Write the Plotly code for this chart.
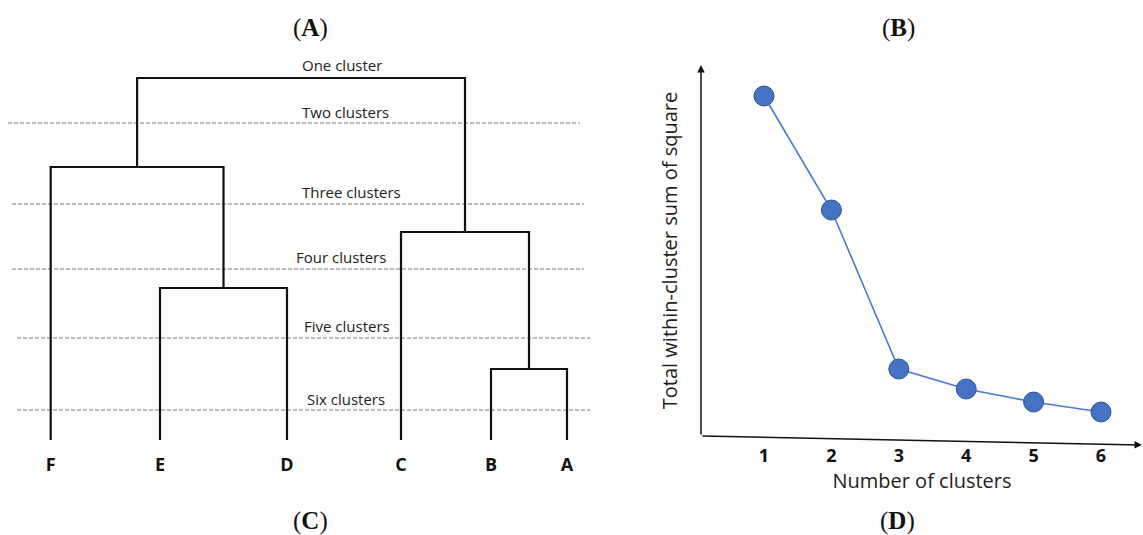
import plotly.graph_objects as go

# ---------------- Hierarchical clustering dendrogram ----------------
leaf_labels = ["F", "E", "D", "C", "B", "A"]
leaf_pos = [50.7, 160, 287, 401, 491, 567]

# linkage: node ids 0-5 are leaves, each merge creates node 6, 7, ...
merge_a = [4, 1, 3, 0, 9]
merge_b = [5, 2, 6, 7, 8]
merge_height = [71, 152, 208, 273, 362]

# horizontal cut levels and their captions
cut_heights = [317, 236, 171, 102, 30]
cut_start = [8, 12, 12, 17, 17]
cut_end = [580, 584, 584, 590, 590]
cut_labels = ["One cluster", "Two clusters", "Three clusters",
              "Four clusters", "Five clusters", "Six clusters"]
cut_label_heights = [375, 328, 248, 183, 114, 41]
cut_label_x = [300, 300, 300, 294, 302, 305]

# ---------------- Elbow plot ----------------
n_clusters = [1, 2, 3, 4, 5, 6]
wss = [340, 226, 67, 47, 34, 24]

W, H = 1143, 535
fig = go.Figure()

# dendrogram links
node_x = list(leaf_pos)
node_h = [0] * len(leaf_pos)
lx, ly = [], []
for a, b, h in zip(merge_a, merge_b, merge_height):
    lx += [node_x[a], node_x[a], node_x[b], node_x[b], None]
    ly += [node_h[a], h, h, node_h[b], None]
    node_x.append((node_x[a] + node_x[b]) / 2)
    node_h.append(h)

# dashed cut lines
cx, cy = [], []
for h, x0, x1 in zip(cut_heights, cut_start, cut_end):
    cx += [x0, x1, None]
    cy += [h, h, None]
fig.add_trace(go.Scatter(x=cx, y=cy, mode="lines", xaxis="x2", yaxis="y2",
                         line=dict(color="#7a7a7a", width=1, dash="4px,2px"),
                         hoverinfo="skip", showlegend=False))
fig.add_trace(go.Scatter(x=lx, y=ly, mode="lines", xaxis="x2", yaxis="y2",
                         line=dict(color="#111111", width=2.2),
                         hoverinfo="skip", showlegend=False))

for txt, h, x in zip(cut_labels, cut_label_heights, cut_label_x):
    fig.add_annotation(x=x, y=h, xref="x2", yref="y2", text=txt,
                       showarrow=False, xanchor="left", yanchor="middle",
                       font=dict(family="Open Sans", size=15, color="#222222"))

# elbow curve
fig.add_trace(go.Scatter(x=n_clusters, y=wss, mode="lines+markers",
                         line=dict(color="#4a7bd0", width=1.6),
                         marker=dict(size=20, color="#4472c4",
                                     line=dict(color="#2f5597", width=1)),
                         hoverinfo="skip", showlegend=False))

ex0, ex1 = 701 / W, 1.0
ey0, ey1 = (H - 436) / H, (H - 65) / H

fig.update_layout(
    width=W, height=H,
    margin=dict(l=0, r=0, t=0, b=0),
    paper_bgcolor="white", plot_bgcolor="rgba(0,0,0,0)",
    showlegend=False,
    xaxis=dict(domain=[ex0, ex1], range=[0.0653, 6.623],
               tickvals=n_clusters, ticktext=[str(n) for n in n_clusters],
               showgrid=False, zeroline=False, showline=False, ticks="",
               ticklabelstandoff=7,
               tickfont=dict(family="Open Sans", size=18, color="#111111",
                             weight="bold"),
               title=dict(text="Number of clusters", standoff=5,
                          font=dict(family="Open Sans", size=20,
                                    color="#222222"))),
    yaxis=dict(domain=[ey0, ey1], range=[0, 371], showticklabels=False,
               showgrid=False, zeroline=False, showline=False, ticks="",
               title=dict(text="Total within-cluster sum of square",
                          standoff=17,
                          font=dict(family="Open Sans", size=20,
                                    color="#222222"))),
    xaxis2=dict(domain=[0, 600 / W], range=[0, 600], anchor="y2",
                tickvals=leaf_pos, ticktext=leaf_labels,
                showgrid=False, zeroline=False, showline=False, ticks="",
                ticklabelstandoff=2,
                tickfont=dict(family="Open Sans", size=18, color="#111111",
                              weight="bold")),
    yaxis2=dict(domain=[(H - 450) / H, 1.0], range=[-10, 440], anchor="x2",
                showticklabels=False, showgrid=False, zeroline=False,
                showline=False, ticks=""),
)

# axis arrows of the elbow plot
fig.add_annotation(xref="paper", yref="paper", x=ex0, y=ey1, ax=0, ay=371,
                   text="", showarrow=True, arrowhead=2, arrowsize=1,
                   arrowwidth=1.5, arrowcolor="#111111")
fig.add_annotation(xref="paper", yref="paper", x=1.0, y=(H - 445) / H,
                   ax=-442, ay=-9, text="", showarrow=True, arrowhead=2,
                   arrowsize=1, arrowwidth=1.5, arrowcolor="#111111")

# panel letters
panel_font = dict(family="Liberation Serif", size=25, color="#111111")
for letter, px, py in [("A", 311, 28), ("B", 898, 28),
                       ("C", 310, 521), ("D", 897, 521)]:
    fig.add_annotation(xref="paper", yref="paper", x=px / W, y=(H - py) / H,
                       text=f"(<b>{letter}</b>)", showarrow=False,
                       xanchor="center", yanchor="middle", font=panel_font)

fig.write_html("out.html")
